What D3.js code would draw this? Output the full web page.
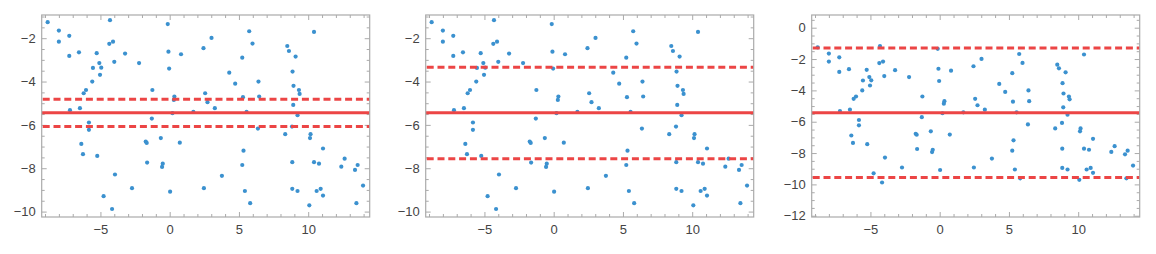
<!DOCTYPE html>
<html>
<head>
<meta charset="utf-8">
<script src="https://cdn.jsdelivr.net/npm/d3@7"></script>
<style>
  body { margin: 0; background: #fff; }
  svg { display: block; font-family: "Liberation Sans", Arial, sans-serif; }
</style>
</head>
<body>
<svg width="1156" height="254"></svg>
<script>
// sample points (same cloud in every panel)
const xs = [-8.81, -8.00, -8.00, -7.25, -7.25, -6.55, -4.31, -5.27, -4.36, -4.09,
  -5.08, -4.94, -5.54, -4.00, -5.03, -5.59, -6.04, -6.21, -6.48, -7.20,
  -5.83, -5.83, -6.38, -6.26, -5.23, -3.95, -4.77, -4.16, -3.22, -0.14,
  -0.09, 0.82, 2.44, -2.21, -0.04, -1.25, 0.34, 0.30, 2.56, -1.29,
  0.20, 1.71, -0.64, -1.73, -1.66, 0.73, -1.63, -0.50, -0.55, -2.72,
  0.03, 2.47, 3.02, 5.74, 5.98, 5.24, 4.30, 4.73, 6.41, 2.73,
  5.29, 6.46, 3.26, 5.55, 6.37, 8.34, 5.33, 5.24, 3.77, 5.43,
  5.81, 10.42, 8.49, 8.61, 9.09, 8.87, 8.94, 9.33, 9.38, 8.92,
  9.23, 8.83, 10.17, 10.13, 11.07, 8.85, 10.42, 10.78, 12.63, 12.39,
  13.57, 13.38, 13.96, 8.85, 9.23, 10.61, 10.90, 11.07, 10.08, 13.48];
const ys = [-1.26, -1.65, -2.16, -1.89, -2.82, -2.65, -1.17, -2.69, -2.26, -2.16,
  -3.15, -3.36, -3.37, -3.09, -3.69, -4.00, -4.39, -4.54, -5.23, -5.32,
  -5.89, -6.23, -6.88, -7.35, -7.43, -8.29, -9.29, -9.88, -2.71, -1.35,
  -2.62, -2.74, -2.46, -3.15, -3.40, -4.39, -4.69, -4.85, -4.54, -5.71,
  -5.46, -5.40, -6.61, -6.77, -6.83, -6.82, -7.74, -7.79, -7.94, -8.92,
  -9.08, -8.92, -1.99, -1.68, -2.25, -2.90, -3.59, -4.10, -4.00, -4.95,
  -4.72, -4.69, -5.23, -5.40, -6.17, -6.43, -7.19, -7.85, -8.35, -9.05,
  -9.61, -1.71, -2.36, -2.59, -2.85, -3.54, -4.20, -4.39, -4.57, -5.08,
  -5.55, -6.08, -6.43, -6.61, -7.09, -7.72, -7.72, -7.79, -7.56, -7.93,
  -7.85, -8.08, -8.80, -8.95, -9.05, -9.05, -8.95, -9.26, -9.71, -9.61];

// per-panel reference lines
const meanLine = [-5.44, -5.44, -5.42];
const upperBand = [-4.82, -3.34, -1.29];
const lowerBand = [-6.08, -7.56, -9.56];

// axis ranges and ticks
const xRange = [-9.24, 14.44];
const yRanges = [[-10.25, -0.93], [-10.25, -0.93], [-12.08, 0.81]];
const xMajor = [-5, 0, 5, 10];
const yMajor = [[-10, -8, -6, -4, -2], [-10, -8, -6, -4, -2], [-12, -10, -8, -6, -4, -2, 0]];

const svg = d3.select('svg');
const panelLeft = [41.7, 425.7, 811.7];
const pw = 328, panelTop = 15, ph = 202;
const frameColor = '#aaa';
const red = '#ec4545';
const blue = '#3b91cf';

panelLeft.forEach((left, i) => {
  const g = svg.append('g').attr('transform', `translate(${left},${panelTop})`);
  const x = d3.scaleLinear().domain(xRange).range([0, pw]);
  const y = d3.scaleLinear().domain(yRanges[i]).range([ph, 0]);

  const xMinor = d3.range(Math.ceil(xRange[0]), Math.floor(xRange[1]) + 1).filter(v => v % 5 !== 0);
  const yMinor = d3.range(Math.ceil(yRanges[i][0] * 2) / 2, yRanges[i][1], 0.5)
    .filter(v => Math.abs(v % 2) > 1e-6);

  const styleAxis = (sel) => {
    sel.select('.domain').remove();
    sel.selectAll('line').attr('stroke', frameColor);
    sel.selectAll('text').attr('fill', '#444').style('font-size', '13px');
  };

  // bottom + top
  g.append('g').attr('transform', `translate(0,${ph})`)
    .call(d3.axisBottom(x).tickValues(xMajor).tickSize(-5).tickPadding(8)).call(styleAxis);
  g.append('g').attr('transform', `translate(0,${ph})`)
    .call(d3.axisBottom(x).tickValues(xMinor).tickSize(-3).tickFormat('')).call(styleAxis);
  g.append('g')
    .call(d3.axisTop(x).tickValues(xMajor).tickSize(-5).tickFormat('')).call(styleAxis);
  g.append('g')
    .call(d3.axisTop(x).tickValues(xMinor).tickSize(-3).tickFormat('')).call(styleAxis);

  // left + right
  g.append('g')
    .call(d3.axisLeft(y).tickValues(yMajor[i]).tickSize(-5).tickPadding(6)).call(styleAxis);
  g.append('g')
    .call(d3.axisLeft(y).tickValues(yMinor).tickSize(-3).tickFormat('')).call(styleAxis);
  g.append('g').attr('transform', `translate(${pw},0)`)
    .call(d3.axisRight(y).tickValues(yMajor[i]).tickSize(-5).tickFormat('')).call(styleAxis);
  g.append('g').attr('transform', `translate(${pw},0)`)
    .call(d3.axisRight(y).tickValues(yMinor).tickSize(-3).tickFormat('')).call(styleAxis);

  // points
  g.append('g').selectAll('circle')
    .data(xs.map((v, k) => [v, ys[k]]))
    .join('circle')
    .attr('cx', d => x(d[0]))
    .attr('cy', d => y(d[1]))
    .attr('r', 2.1)
    .attr('fill', blue);

  // mean + band lines
  g.append('line')
    .attr('x1', 0).attr('x2', pw)
    .attr('y1', y(meanLine[i])).attr('y2', y(meanLine[i]))
    .attr('stroke', red).attr('stroke-width', 3);
  [upperBand[i], lowerBand[i]].forEach(v => {
    g.append('line')
      .attr('x1', 1).attr('x2', pw)
      .attr('y1', y(v)).attr('y2', y(v))
      .attr('stroke', red).attr('stroke-width', 3)
      .attr('stroke-dasharray', '7,3.8');
  });

  // frame
  g.append('rect')
    .attr('width', pw).attr('height', ph)
    .attr('fill', 'none').attr('stroke', frameColor).attr('stroke-width', 1.2);
});
</script>
</body>
</html>
